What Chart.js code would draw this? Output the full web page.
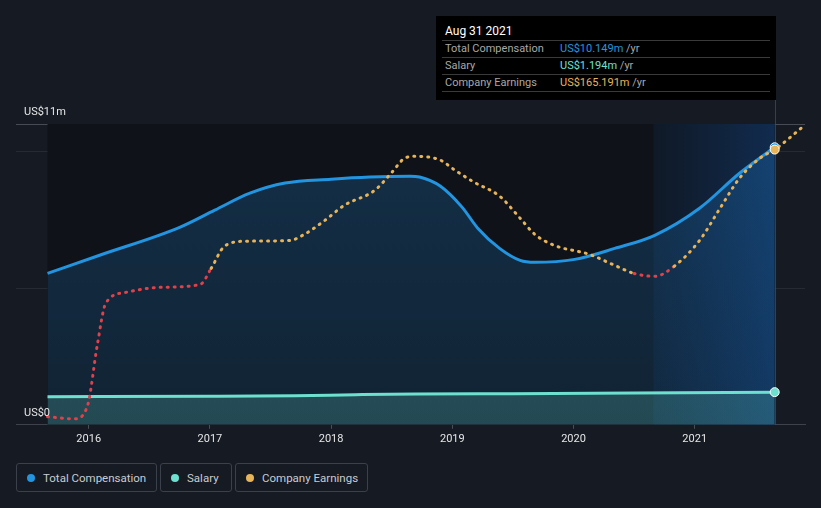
<!DOCTYPE html>
<html>
<head>
<meta charset="utf-8">
<script src="https://cdn.jsdelivr.net/npm/chart.js@4.4.0/dist/chart.umd.min.js"></script>
<style>
  body { margin: 0; background: #151a23; font-family: Roboto, "Noto Sans", sans-serif; }
  #wrap { position: relative; width: 821px; height: 508px; overflow: hidden; }
  #chart { position: absolute; left: 0; top: 0; }
  #tip { position: absolute; left: 436px; top: 16px; width: 340px; height: 84px; background: #000; font-size: 11px; }
  #tip .title { position: absolute; left: 9px; top: 8px; color: #fff; font-size: 12px; }
  #tip .row { position: absolute; left: 6px; width: 328px; height: 16px; border-top: 1px solid #3a3a3a; line-height: 16px; color: #a8a8a8; }
  #tip .row span.l { position: absolute; left: 3px; }
  #tip .row span.v { position: absolute; left: 118px; }
  .item { position: absolute; top: 463px; box-sizing: border-box; height: 29px; border: 1px solid #3b414b; border-radius: 3px; padding-left: 10px; display: flex; align-items: center; color: #c8ccd2; font-size: 11.5px; }
  .dot { width: 8px; height: 8px; border-radius: 50%; margin-right: 8px; }
</style>
</head>
<body>
<div id="wrap">
  <canvas id="chart" width="821" height="450"></canvas>
  <div id="tip">
    <div class="title">Aug 31 2021</div>
    <div class="row" style="top:24px"><span class="l">Total Compensation</span><span class="v"><b style="font-weight:normal;color:#2394df">US$10.149m</b> /yr</span></div>
    <div class="row" style="top:41px"><span class="l">Salary</span><span class="v"><b style="font-weight:normal;color:#6ee0d0">US$1.194m</b> /yr</span></div>
    <div class="row" style="top:58px"><span class="l">Company Earnings</span><span class="v"><b style="font-weight:normal;color:#e8b45a">US$165.191m</b> /yr</span></div>
    <div class="row" style="top:75px;height:0"></div>
  </div>
  <div class="item" style="left:16px;width:141px"><div class="dot" style="background:#2394df"></div>Total Compensation</div>
  <div class="item" style="left:160px;width:72px"><div class="dot" style="background:#6ee0d0"></div>Salary</div>
  <div class="item" style="left:235px;width:133px"><div class="dot" style="background:#e8b45a"></div>Company Earnings</div>
</div>
<script>
// values (years as decimals, money in US$ millions)
const compYears = [2015.66, 2016.09, 2016.75, 2017.04, 2017.33, 2017.62, 2018.0, 2018.32, 2018.65, 2018.73, 2018.90, 2019.08, 2019.21, 2019.39, 2019.56, 2019.68, 2020.01, 2020.34, 2020.67, 2021.04, 2021.37, 2021.66];
const compValues = [5.54, 6.20, 7.22, 7.85, 8.47, 8.84, 8.98, 9.06, 9.09, 9.06, 8.73, 7.96, 7.19, 6.45, 6.01, 5.94, 6.05, 6.45, 6.93, 7.92, 9.20, 10.149];

const salaryYears = [2015.66, 2017.0, 2017.7, 2018.2, 2018.7, 2019.5, 2020.5, 2021.66];
const salaryValues = [1.03, 1.04, 1.06, 1.10, 1.13, 1.14, 1.16, 1.194];

const earnYears = [2015.66, 2015.88, 2015.99, 2016.07, 2016.14, 2016.30, 2016.59, 2016.92, 2017.01, 2017.12, 2017.29, 2017.66, 2017.78, 2017.95, 2018.11, 2018.36, 2018.50, 2018.61, 2018.69, 2018.90, 2019.02, 2019.18, 2019.39, 2019.56, 2019.68, 2019.84, 2020.13, 2020.34, 2020.50, 2020.67, 2020.83, 2021.04, 2021.21, 2021.37, 2021.54, 2021.66, 2021.91];
const earnValues = [0, -1.3, 6.8, 44, 70, 76.8, 80, 81.8, 91.7, 105.4, 108.5, 109, 112.8, 121.5, 130.8, 140, 151, 160, 161, 158.7, 152.5, 145, 136.4, 122.7, 112.8, 106, 100.4, 93.6, 88.6, 86.8, 93, 109, 129, 147.5, 160, 165.191, 180.4];

const yearTicks = [2016, 2017, 2018, 2019, 2020, 2021];
const axisLabels = [0, 11];
const selectedYear = 2021.66;

const BLUE = '#2394df';
const TEAL = '#6ee0d0';
const ORANGE = '#e8b45a';
const RED = '#e0414a';

function pts(xs, ys) {
  return xs.map((x, i) => ({ x: x, y: ys[i] }));
}

function endPoint(ctx) {
  return ctx.raw && ctx.raw.x === selectedYear ? 4.5 : 0;
}

// dark panel behind the data, the highlighted last year and the marker line
const backdrop = {
  id: 'backdrop',
  beforeDatasetsDraw(chart) {
    const c = chart.ctx, a = chart.chartArea, xs = chart.scales.x;
    const x0 = xs.getPixelForValue(compYears[0]);
    const x1 = xs.getPixelForValue(selectedYear);
    const xh = xs.getPixelForValue(selectedYear - 1);
    c.save();
    c.fillStyle = '#0f1319';
    c.fillRect(x0, a.top, x1 - x0, a.bottom - a.top);
    const g = c.createLinearGradient(xh, 0, x1, 0);
    g.addColorStop(0, 'rgba(20,80,160,0.10)');
    g.addColorStop(1, 'rgba(20,90,180,0.35)');
    c.fillStyle = g;
    c.fillRect(xh, a.top, x1 - xh, a.bottom - a.top);
    c.strokeStyle = 'rgba(30,80,140,0.8)';
    c.lineWidth = 1;
    c.beginPath();
    c.moveTo(Math.round(x1) + 0.5, 100);
    c.lineTo(Math.round(x1) + 0.5, a.bottom);
    c.stroke();
    c.restore();
  },
  afterDraw(chart) {
    const c = chart.ctx, ys = chart.scales.y;
    c.save();
    c.font = '11px Roboto';
    c.fillStyle = '#e6e6e6';
    c.textBaseline = 'middle';
    axisLabels.forEach(v => {
      c.fillText(v === 0 ? 'US$0' : 'US$' + v + 'm', 24, ys.getPixelForValue(v) - 12);
    });
    c.restore();
  }
};

function areaGradient(ctx, r, g, b, top, bottom) {
  const chart = ctx.chart;
  const a = chart.chartArea;
  if (!a) return 'rgba(' + r + ',' + g + ',' + b + ',' + top + ')';
  const gr = chart.ctx.createLinearGradient(0, a.top, 0, a.bottom);
  gr.addColorStop(0, 'rgba(' + r + ',' + g + ',' + b + ',' + top + ')');
  gr.addColorStop(1, 'rgba(' + r + ',' + g + ',' + b + ',' + bottom + ')');
  return gr;
}

const ctx = document.getElementById('chart').getContext('2d');
const chart = new Chart(ctx, {
  type: 'line',
  data: {
    datasets: [
      {
        label: 'Company Earnings',
        data: pts(earnYears, earnValues),
        yAxisID: 'y2',
        borderColor: ORANGE,
        borderWidth: 3,
        borderDash: [1, 6],
        borderCapStyle: 'round',
        fill: false,
        cubicInterpolationMode: 'monotone',
        pointRadius: endPoint,
        pointBackgroundColor: ORANGE,
        pointBorderColor: '#ffffff',
        pointBorderWidth: 1,
        segment: {
          borderColor: s => (s.p0.parsed.y + s.p1.parsed.y) / 2 < 90 ? RED : ORANGE
        },
        order: 1
      },
      {
        label: 'Salary',
        data: pts(salaryYears, salaryValues),
        borderColor: TEAL,
        borderWidth: 3,
        fill: 'origin',
        backgroundColor: c => areaGradient(c, 100, 210, 195, 0.30, 0.22),
        cubicInterpolationMode: 'monotone',
        pointRadius: endPoint,
        pointBackgroundColor: TEAL,
        pointBorderColor: '#ffffff',
        pointBorderWidth: 1,
        order: 2
      },
      {
        label: 'Total Compensation',
        data: pts(compYears, compValues),
        borderColor: BLUE,
        borderWidth: 3,
        fill: 'origin',
        backgroundColor: c => areaGradient(c, 33, 150, 243, 0.22, 0.12),
        cubicInterpolationMode: 'monotone',
        pointRadius: endPoint,
        pointBackgroundColor: BLUE,
        pointBorderColor: '#ffffff',
        pointBorderWidth: 1,
        order: 3
      }
    ]
  },
  options: {
    responsive: false,
    animation: false,
    layout: { padding: { left: 16, right: 16, top: 124, bottom: 0 } },
    plugins: { legend: { display: false }, tooltip: { enabled: false } },
    scales: {
      x: {
        type: 'linear',
        min: 2015.4,
        max: 2021.91,
        afterBuildTicks: s => { s.ticks = yearTicks.map(v => ({ value: v })); },
        ticks: { color: '#e6e6e6', font: { family: 'Roboto', size: 11 }, padding: 4, callback: v => String(v) },
        grid: { display: true, drawOnChartArea: false, color: '#4a4f57', tickLength: 4 },
        border: { display: true, color: '#3e434b' }
      },
      y: {
        min: 0,
        max: 11,
        afterBuildTicks: s => { s.ticks = [0, 5, 10, 11].map(v => ({ value: v })); },
        ticks: { display: false },
        grid: {
          drawTicks: false,
          color: c => c.tick.value === 11 ? '#474c54' : (c.tick.value === 0 ? 'rgba(0,0,0,0)' : '#262b33')
        },
        border: { display: false }
      },
      y2: { display: false, min: -5, max: 181 }
    }
  },
  plugins: [backdrop]
});
</script>
</body>
</html>
